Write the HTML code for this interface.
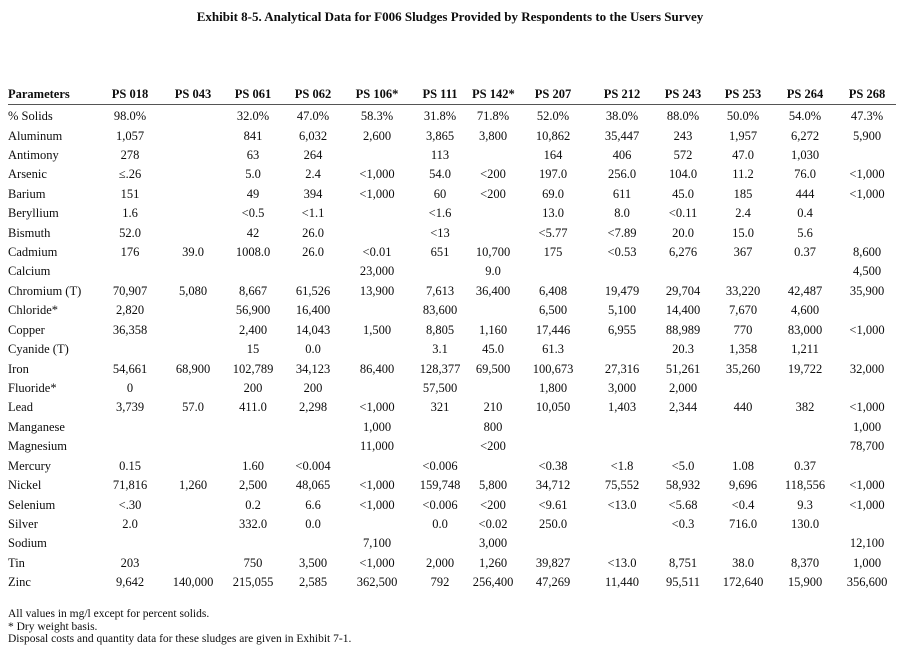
<!DOCTYPE html>
<html><head><meta charset="utf-8"><style>
html,body{margin:0;padding:0;background:#fff;}
body{width:900px;height:652px;position:relative;overflow:hidden;font-family:"Liberation Serif",serif;color:#0d0d0d;}
.title{position:absolute;top:9px;left:0;width:900px;text-align:center;font-weight:bold;font-size:13px;}
table{position:absolute;left:8px;top:85px;border-collapse:collapse;table-layout:fixed;width:888px;font-size:12.5px;}
td,th{padding:0;height:19.42px;line-height:19.42px;text-align:center;white-space:nowrap;}
td:first-child,th:first-child{text-align:left;}
th{font-weight:bold;border-bottom:1.3px solid #555;height:18.5px;line-height:18.5px;}
tr.f td{height:20.5px;line-height:22px;}
.notes{position:absolute;left:8px;top:608px;font-size:11.5px;line-height:12.5px;}
</style></head><body>
<div class="title">Exhibit 8-5. Analytical Data for F006 Sludges Provided by Respondents to the Users Survey</div>
<table>
<colgroup><col style="width:92px"><col style="width:60px"><col style="width:66px"><col style="width:54px"><col style="width:66px"><col style="width:62px"><col style="width:64px"><col style="width:42px"><col style="width:78px"><col style="width:60px"><col style="width:62px"><col style="width:58px"><col style="width:66px"><col style="width:58px"></colgroup>
<tr><th>Parameters</th><th>PS 018</th><th>PS 043</th><th>PS 061</th><th>PS 062</th><th>PS 106*</th><th>PS 111</th><th>PS 142*</th><th>PS 207</th><th>PS 212</th><th>PS 243</th><th>PS 253</th><th>PS 264</th><th>PS 268</th></tr>
<tr class="f"><td>% Solids</td><td>98.0%</td><td></td><td>32.0%</td><td>47.0%</td><td>58.3%</td><td>31.8%</td><td>71.8%</td><td>52.0%</td><td>38.0%</td><td>88.0%</td><td>50.0%</td><td>54.0%</td><td>47.3%</td></tr>
<tr><td>Aluminum</td><td>1,057</td><td></td><td>841</td><td>6,032</td><td>2,600</td><td>3,865</td><td>3,800</td><td>10,862</td><td>35,447</td><td>243</td><td>1,957</td><td>6,272</td><td>5,900</td></tr>
<tr><td>Antimony</td><td>278</td><td></td><td>63</td><td>264</td><td></td><td>113</td><td></td><td>164</td><td>406</td><td>572</td><td>47.0</td><td>1,030</td><td></td></tr>
<tr><td>Arsenic</td><td>≤.26</td><td></td><td>5.0</td><td>2.4</td><td>&lt;1,000</td><td>54.0</td><td>&lt;200</td><td>197.0</td><td>256.0</td><td>104.0</td><td>11.2</td><td>76.0</td><td>&lt;1,000</td></tr>
<tr><td>Barium</td><td>151</td><td></td><td>49</td><td>394</td><td>&lt;1,000</td><td>60</td><td>&lt;200</td><td>69.0</td><td>611</td><td>45.0</td><td>185</td><td>444</td><td>&lt;1,000</td></tr>
<tr><td>Beryllium</td><td>1.6</td><td></td><td>&lt;0.5</td><td>&lt;1.1</td><td></td><td>&lt;1.6</td><td></td><td>13.0</td><td>8.0</td><td>&lt;0.11</td><td>2.4</td><td>0.4</td><td></td></tr>
<tr><td>Bismuth</td><td>52.0</td><td></td><td>42</td><td>26.0</td><td></td><td>&lt;13</td><td></td><td>&lt;5.77</td><td>&lt;7.89</td><td>20.0</td><td>15.0</td><td>5.6</td><td></td></tr>
<tr><td>Cadmium</td><td>176</td><td>39.0</td><td>1008.0</td><td>26.0</td><td>&lt;0.01</td><td>651</td><td>10,700</td><td>175</td><td>&lt;0.53</td><td>6,276</td><td>367</td><td>0.37</td><td>8,600</td></tr>
<tr><td>Calcium</td><td></td><td></td><td></td><td></td><td>23,000</td><td></td><td>9.0</td><td></td><td></td><td></td><td></td><td></td><td>4,500</td></tr>
<tr><td>Chromium (T)</td><td>70,907</td><td>5,080</td><td>8,667</td><td>61,526</td><td>13,900</td><td>7,613</td><td>36,400</td><td>6,408</td><td>19,479</td><td>29,704</td><td>33,220</td><td>42,487</td><td>35,900</td></tr>
<tr><td>Chloride*</td><td>2,820</td><td></td><td>56,900</td><td>16,400</td><td></td><td>83,600</td><td></td><td>6,500</td><td>5,100</td><td>14,400</td><td>7,670</td><td>4,600</td><td></td></tr>
<tr><td>Copper</td><td>36,358</td><td></td><td>2,400</td><td>14,043</td><td>1,500</td><td>8,805</td><td>1,160</td><td>17,446</td><td>6,955</td><td>88,989</td><td>770</td><td>83,000</td><td>&lt;1,000</td></tr>
<tr><td>Cyanide (T)</td><td></td><td></td><td>15</td><td>0.0</td><td></td><td>3.1</td><td>45.0</td><td>61.3</td><td></td><td>20.3</td><td>1,358</td><td>1,211</td><td></td></tr>
<tr><td>Iron</td><td>54,661</td><td>68,900</td><td>102,789</td><td>34,123</td><td>86,400</td><td>128,377</td><td>69,500</td><td>100,673</td><td>27,316</td><td>51,261</td><td>35,260</td><td>19,722</td><td>32,000</td></tr>
<tr><td>Fluoride*</td><td>0</td><td></td><td>200</td><td>200</td><td></td><td>57,500</td><td></td><td>1,800</td><td>3,000</td><td>2,000</td><td></td><td></td><td></td></tr>
<tr><td>Lead</td><td>3,739</td><td>57.0</td><td>411.0</td><td>2,298</td><td>&lt;1,000</td><td>321</td><td>210</td><td>10,050</td><td>1,403</td><td>2,344</td><td>440</td><td>382</td><td>&lt;1,000</td></tr>
<tr><td>Manganese</td><td></td><td></td><td></td><td></td><td>1,000</td><td></td><td>800</td><td></td><td></td><td></td><td></td><td></td><td>1,000</td></tr>
<tr><td>Magnesium</td><td></td><td></td><td></td><td></td><td>11,000</td><td></td><td>&lt;200</td><td></td><td></td><td></td><td></td><td></td><td>78,700</td></tr>
<tr><td>Mercury</td><td>0.15</td><td></td><td>1.60</td><td>&lt;0.004</td><td></td><td>&lt;0.006</td><td></td><td>&lt;0.38</td><td>&lt;1.8</td><td>&lt;5.0</td><td>1.08</td><td>0.37</td><td></td></tr>
<tr><td>Nickel</td><td>71,816</td><td>1,260</td><td>2,500</td><td>48,065</td><td>&lt;1,000</td><td>159,748</td><td>5,800</td><td>34,712</td><td>75,552</td><td>58,932</td><td>9,696</td><td>118,556</td><td>&lt;1,000</td></tr>
<tr><td>Selenium</td><td>&lt;.30</td><td></td><td>0.2</td><td>6.6</td><td>&lt;1,000</td><td>&lt;0.006</td><td>&lt;200</td><td>&lt;9.61</td><td>&lt;13.0</td><td>&lt;5.68</td><td>&lt;0.4</td><td>9.3</td><td>&lt;1,000</td></tr>
<tr><td>Silver</td><td>2.0</td><td></td><td>332.0</td><td>0.0</td><td></td><td>0.0</td><td>&lt;0.02</td><td>250.0</td><td></td><td>&lt;0.3</td><td>716.0</td><td>130.0</td><td></td></tr>
<tr><td>Sodium</td><td></td><td></td><td></td><td></td><td>7,100</td><td></td><td>3,000</td><td></td><td></td><td></td><td></td><td></td><td>12,100</td></tr>
<tr><td>Tin</td><td>203</td><td></td><td>750</td><td>3,500</td><td>&lt;1,000</td><td>2,000</td><td>1,260</td><td>39,827</td><td>&lt;13.0</td><td>8,751</td><td>38.0</td><td>8,370</td><td>1,000</td></tr>
<tr><td>Zinc</td><td>9,642</td><td>140,000</td><td>215,055</td><td>2,585</td><td>362,500</td><td>792</td><td>256,400</td><td>47,269</td><td>11,440</td><td>95,511</td><td>172,640</td><td>15,900</td><td>356,600</td></tr>
</table>
<div class="notes">All values in mg/l except for percent solids.<br>* Dry weight basis.<br>Disposal costs and quantity data for these sludges are given in Exhibit 7-1.</div>
</body></html>
